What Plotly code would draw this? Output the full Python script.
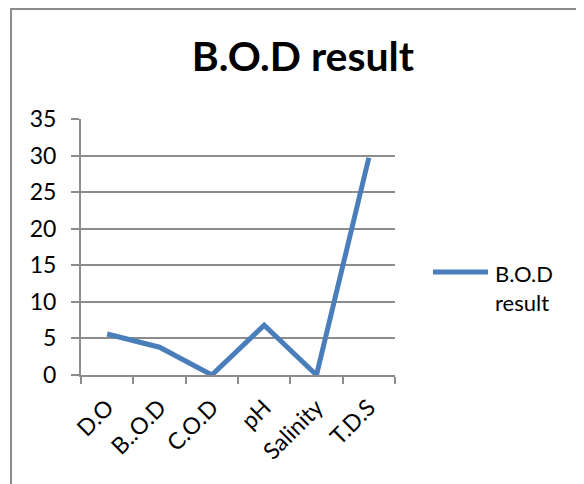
import plotly.graph_objects as go

categories = ["D.O", "B..O.D", "C.O.D", "pH", "Salinity", "T.D.S"]
values = [5.6, 3.8, 0, 6.8, 0, 29.7]
series_name = "B.O.D<br>result"
y_ticks = [0, 5, 10, 15, 20, 25, 30, 35]

FONT = "Lato, Calibri, Carlito, sans-serif"
GRID = "#8c8c8c"
BLUE = "#4a7ebb"

# plot area in figure pixels
L, T, R, B = 73, 111, 197, 117
PW, PH = 584 - L - R, 484 - T - B

def px(xf):
    return (xf - L) / PW

def py(yf):
    return (484 - B - yf) / PH

fig = go.Figure()
fig.add_trace(go.Scatter(
    x=categories, y=values, mode="lines", name=series_name,
    line=dict(color=BLUE, width=5), showlegend=False,
))

fig.update_layout(
    width=584, height=484,
    margin=dict(l=L, r=R, t=T, b=B),
    paper_bgcolor="white", plot_bgcolor="white",
    font=dict(family=FONT, color="black", size=22),
    title=dict(text="<b>B.O.D result</b>", x=0.505, xanchor="center",
               y=1 - 49 / 484, yanchor="middle",
               font=dict(family=FONT, size=41, color="black")),
    showlegend=False,
    xaxis=dict(type="category", categoryorder="array", categoryarray=categories,
               range=[-0.5, len(categories) - 0.5],
               showline=True, linecolor=GRID, linewidth=2,
               ticks="outside", tickson="boundaries", ticklen=7, tickwidth=2,
               tickcolor=GRID, tickangle=-45, showgrid=False,
               ticklabelstandoff=8,
               tickfont=dict(family=FONT, size=23)),
    yaxis=dict(range=[0, 35], tickvals=y_ticks, showline=True, linecolor=GRID,
               linewidth=2, ticks="outside", ticklen=8, tickwidth=2, tickcolor=GRID,
               showgrid=True, gridcolor=GRID, gridwidth=2, zeroline=False,
               ticklabelstandoff=10,
               tickfont=dict(family=FONT, size=23)),
)

# chart border
fig.add_shape(type="rect", xref="paper", yref="paper",
              x0=px(3), x1=2.0, y0=-1.0, y1=py(1),
              line=dict(color=GRID, width=2), fillcolor="rgba(0,0,0,0)",
              layer="below")

# legend
fig.add_shape(type="line", xref="paper", yref="paper",
              x0=px(425), x1=px(480), y0=py(264), y1=py(264),
              line=dict(color=BLUE, width=5))
fig.add_annotation(xref="paper", yref="paper", x=px(485), y=py(250),
                   xanchor="left", yanchor="top", align="left", showarrow=False,
                   text=series_name, font=dict(family=FONT, size=22, color="black"))

fig.write_html("out.html")
